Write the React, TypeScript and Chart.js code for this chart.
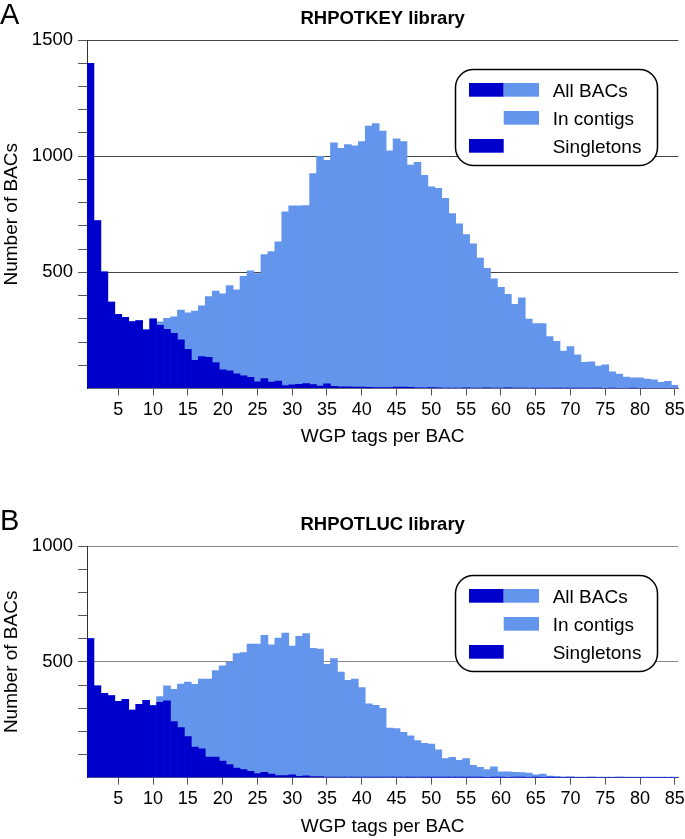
import React, { useEffect, useRef } from 'react';
import { Chart, registerables } from 'chart.js';

Chart.register(...registerables);

const FONT = '"Liberation Sans", Arial, Helvetica, sans-serif';
const DARK = '#0000CC';
const LIGHT = '#6495ED';

// WGP tags per BAC (bins 1..85)
const categories = [
  '1','2','3','4','5','6','7','8','9','10','11','12','13','14','15','16','17','18','19','20',
  '21','22','23','24','25','26','27','28','29','30','31','32','33','34','35','36','37','38','39','40',
  '41','42','43','44','45','46','47','48','49','50','51','52','53','54','55','56','57','58','59','60',
  '61','62','63','64','65','66','67','68','69','70','71','72','73','74','75','76','77','78','79','80',
  '81','82','83','84','85',
];
const xTickLabels = ['5','10','15','20','25','30','35','40','45','50','55','60','65','70','75','80','85'];

// Panel A: RHPOTKEY library
const allBacsA = [
  1400, 723, 502, 372, 319, 306, 288, 292, 253, 300,
  287, 302, 309, 338, 326, 333, 356, 396, 419, 407,
  443, 425, 483, 507, 495, 576, 589, 631, 760, 786,
  786, 787, 925, 999, 982, 1057, 1034, 1050, 1045, 1063,
  1130, 1140, 1108, 1023, 1075, 1063, 962, 974, 918, 868,
  862, 819, 753, 709, 663, 623, 561, 517, 472, 435,
  405, 362, 390, 299, 279, 279, 223, 203, 161, 180,
  145, 113, 115, 97, 102, 72, 62, 49, 46, 46,
  41, 37, 27, 31, 14,
];
const singletonsA = [
  1400, 723, 502, 372, 319, 306, 288, 292, 253, 300,
  272, 255, 237, 209, 169, 121, 137, 134, 112, 80,
  76, 63, 54, 48, 29, 43, 28, 32, 13, 16,
  18, 21, 17, 10, 20, 9, 7, 7, 6, 6,
  5, 4, 4, 4, 6, 6, 5, 3, 3, 4,
  3, 2, 2, 2, 3, 2, 2, 3, 2, 2,
  3, 2, 2, 2, 1, 2, 1, 1, 1, 1,
  1, 1, 1, 1, 0, 1, 0, 0, 1, 0,
  0, 0, 0, 0, 0,
];

// Panel B: RHPOTLUC library
const allBacsB = [
  600, 397, 364, 354, 330, 338, 292, 317, 334, 311,
  350, 396, 381, 404, 413, 403, 426, 426, 462, 483,
  498, 536, 540, 577, 577, 614, 573, 603, 624, 568,
  610, 622, 558, 555, 489, 514, 456, 420, 426, 389,
  319, 312, 299, 214, 212, 196, 181, 160, 148, 145,
  120, 82, 88, 75, 82, 53, 45, 35, 47, 25,
  25, 23, 22, 20, 12, 16, 7, 6, 4, 3,
  3, 2, 2, 3, 2, 2, 1, 2, 1, 2,
  1, 1, 1, 2, 1,
];
const singletonsB = [
  600, 397, 364, 354, 330, 338, 292, 317, 334, 311,
  325, 332, 242, 216, 177, 132, 125, 89, 89, 72,
  57, 42, 35, 28, 18, 23, 16, 9, 9, 12,
  6, 8, 5, 5, 3, 3, 3, 2, 3, 2,
  2, 3, 2, 2, 2, 2, 1, 2, 1, 1,
  1, 1, 1, 1, 1, 1, 1, 0, 1, 1,
  0, 1, 1, 0, 1, 0, 1, 0, 0, 1,
  0, 0, 1, 0, 0, 0, 1, 0, 0, 0,
  0, 0, 0, 0, 0,
];

const legendItems = ['All BACs', 'In contigs', 'Singletons'];

function roundRectPath(ctx: CanvasRenderingContext2D, x: number, y: number, w: number, h: number, r: number) {
  ctx.beginPath();
  ctx.moveTo(x + r, y);
  ctx.lineTo(x + w - r, y);
  ctx.arcTo(x + w, y, x + w, y + r, r);
  ctx.lineTo(x + w, y + h - r);
  ctx.arcTo(x + w, y + h, x + w - r, y + h, r);
  ctx.lineTo(x + r, y + h);
  ctx.arcTo(x, y + h, x, y + h - r, r);
  ctx.lineTo(x, y + r);
  ctx.arcTo(x, y, x + r, y, r);
  ctx.closePath();
}

const decorPlugin = {
  id: 'decor',
  afterDraw(chart: any, _args: any, opts: any) {
    const { ctx, chartArea } = chart;
    ctx.save();
    ctx.fillStyle = '#000';
    ctx.textBaseline = 'alphabetic';
    // panel letter
    ctx.font = `29px ${FONT}`;
    ctx.textAlign = 'left';
    ctx.fillText(opts.letter, 0, chartArea.top - 16);
    // title
    ctx.font = `bold 18.5px ${FONT}`;
    ctx.textAlign = 'center';
    ctx.fillText(opts.title, (chartArea.left + chartArea.right) / 2, chartArea.top - 16);
    // legend box
    const bx = 455.5, by = chartArea.top + 29.5, bw = 202, bh = 96, r = 18;
    roundRectPath(ctx, bx, by, bw, bh, r);
    ctx.fillStyle = '#fff';
    ctx.fill();
    ctx.lineWidth = 1.5;
    ctx.strokeStyle = '#000';
    ctx.stroke();
    const rows = [14, 42, 70];
    const sh = 13.7;
    // All BACs
    ctx.fillStyle = DARK;
    ctx.fillRect(469, by - 0.5 + rows[0], 34.7, sh);
    ctx.fillStyle = LIGHT;
    ctx.fillRect(503.7, by - 0.5 + rows[0], 35.3, sh);
    // In contigs
    ctx.fillRect(503.7, by - 0.5 + rows[1], 35.3, sh);
    // Singletons
    ctx.fillStyle = DARK;
    ctx.fillRect(469, by - 0.5 + rows[2], 34.7, sh);
    ctx.fillStyle = '#000';
    ctx.font = `19px ${FONT}`;
    ctx.textAlign = 'left';
    legendItems.forEach((t, i) => {
      ctx.fillText(t, 552.7, by - 0.5 + rows[i] + sh / 2 + 6.8);
    });
    ctx.restore();
  },
};

type PanelProps = {
  top: number;
  height: number;
  padTop: number;
  padBottom: number;
  letter: string;
  title: string;
  total: number[];
  singles: number[];
  yMax: number;
  gridColor: string;
};

function Panel(p: PanelProps) {
  const ref = useRef<HTMLCanvasElement>(null);
  useEffect(() => {
    const contigs = p.total.map((t, i) => Math.max(t - p.singles[i], 0));
    const chart = new Chart(ref.current as HTMLCanvasElement, {
      type: 'bar',
      data: {
        labels: categories,
        datasets: [
          {
            label: 'Singletons',
            data: p.singles,
            backgroundColor: DARK,
            borderWidth: 0,
            barPercentage: 1,
            categoryPercentage: 1,
          },
          {
            label: 'In contigs',
            data: contigs,
            backgroundColor: LIGHT,
            borderWidth: 0,
            barPercentage: 1,
            categoryPercentage: 1,
          },
        ],
      },
      options: {
        responsive: false,
        animation: false,
        devicePixelRatio: 1,
        layout: { padding: { top: p.padTop, right: 6.7, bottom: p.padBottom, left: 0 } },
        plugins: {
          legend: { display: false },
          tooltip: { enabled: false },
          title: { display: false },
          decor: { letter: p.letter, title: p.title },
        } as any,
        scales: {
          x: {
            stacked: true,
            offset: true,
            grid: {
              offset: false,
              drawOnChartArea: false,
              drawTicks: true,
              tickLength: 7,
              color: '#555',
              lineWidth: 1,
            },
            border: { display: true, color: '#777', width: 1 },
            ticks: {
              autoSkip: false,
              maxRotation: 0,
              minRotation: 0,
              padding: 3.5,
              color: '#000',
              font: { family: FONT, size: 18 },
              callback: (_v: any, i: number) => {
                const lab = categories[i];
                return xTickLabels.includes(lab) ? lab : null;
              },
            },
            title: {
              display: true,
              text: 'WGP tags per BAC',
              color: '#000',
              font: { family: FONT, size: 19 },
              padding: 0,
            },
            afterFit: (s: any) => {
              s.height = 60;
              s.paddingLeft = 0;
              s.paddingRight = 0;
            },
          } as any,
          y: {
            stacked: true,
            min: 0,
            max: p.yMax,
            grid: {
              drawOnChartArea: true,
              drawTicks: true,
              tickLength: 9,
              lineWidth: 1,
              color: (c: any) =>
                c.tick && c.tick.value > 0 && c.tick.value % 500 === 0 ? p.gridColor : 'rgba(0,0,0,0)',
              tickColor: (c: any) => (c.tick && c.tick.value > 0 ? '#555' : 'rgba(0,0,0,0)'),
            },
            border: { display: true, color: '#333', width: 1 },
            ticks: {
              stepSize: 100,
              autoSkip: false,
              padding: 5,
              color: '#000',
              font: { family: FONT, size: 18.5 },
              callback: (v: any) => (v > 0 && v % 500 === 0 ? String(v) : ''),
            },
            title: {
              display: true,
              text: 'Number of BACs',
              color: '#000',
              font: { family: FONT, size: 19 },
              padding: 0,
            },
            afterFit: (s: any) => {
              s.width = 87;
              s.paddingTop = 0;
              s.paddingBottom = 0;
            },
          } as any,
        },
      },
      plugins: [decorPlugin as any],
    });
    return () => chart.destroy();
  }, []);
  return (
    <canvas
      ref={ref}
      width={685}
      height={p.height}
      style={{ position: 'absolute', left: 0, top: p.top, width: 685, height: p.height, display: 'block' }}
    />
  );
}

export default function App() {
  return (
    <div style={{ position: 'absolute', left: 0, top: 0, width: 685, height: 839, background: '#fff' }}>
      <Panel
        top={0}
        height={460}
        padTop={40}
        padBottom={11.5}
        letter="A"
        title="RHPOTKEY library"
        total={allBacsA}
        singles={singletonsA}
        yMax={1500}
        gridColor="#444"
      />
      <Panel
        top={460}
        height={379}
        padTop={86}
        padBottom={1.3}
        letter="B"
        title="RHPOTLUC library"
        total={allBacsB}
        singles={singletonsB}
        yMax={1000}
        gridColor="#888"
      />
    </div>
  );
}
